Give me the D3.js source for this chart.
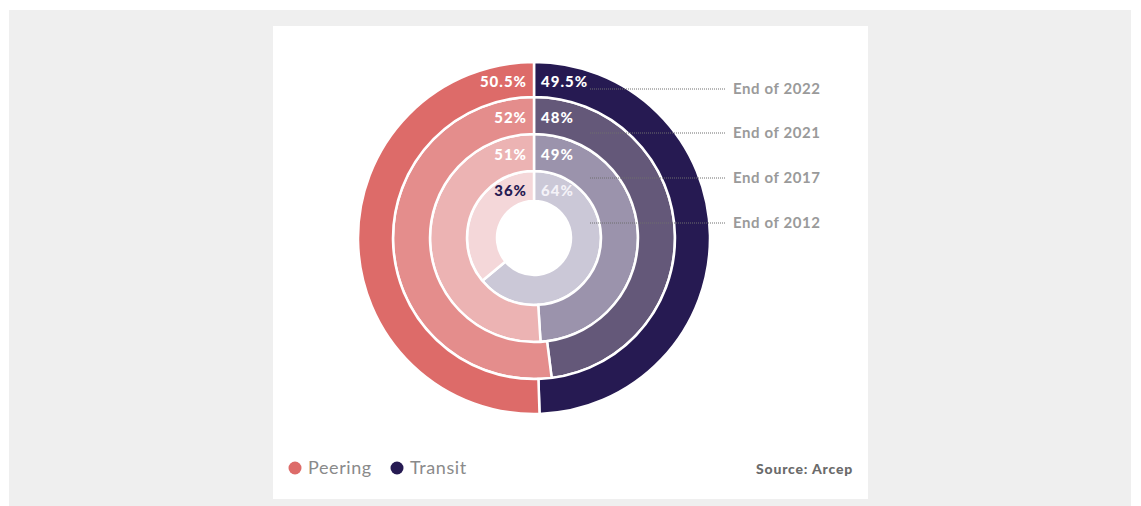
<!DOCTYPE html>
<html>
<head>
<meta charset="utf-8">
<script src="https://cdn.jsdelivr.net/npm/d3@7"></script>
<style>
  html, body { margin: 0; padding: 0; background: #fff; }
  svg { display: block; }
</style>
</head>
<body>
<div id="vis"></div>
<script>
// Data: share of interconnection traffic, inner ring -> outer ring
const years = ["End of 2012", "End of 2017", "End of 2021", "End of 2022"];
const peering = [36, 51, 52, 50.5];
const transit = [64, 49, 48, 49.5];
const series = ["Peering", "Transit"];

const width = 1141;
const height = 506;

// layout
const cx = 534, cy = 238;
const ringEdges = [37, 67, 104, 141, 176];   // radii, inner hole -> outer edge

const peeringColors = ["#f4d7d9", "#ecb3b3", "#e48d8c", "#dd6b69"];
const transitColors = ["#cbc8d7", "#9b93ac", "#645879", "#261a52"];
const labelColors = {
    peering: ["#261a52", "#ffffff", "#ffffff", "#ffffff"],
    transit: ["#f4f2f8", "#ffffff", "#ffffff", "#ffffff"]
};

const svg = d3.select("#vis")
    .append("svg")
    .attr("width", width)
    .attr("height", height);

// background panel + card
svg.append("rect")
    .attr("x", 9).attr("y", 10)
    .attr("width", 1122).attr("height", 496)
    .attr("fill", "#efefef");

svg.append("rect")
    .attr("x", 273).attr("y", 26)
    .attr("width", 595).attr("height", 473)
    .attr("fill", "#ffffff");

const pie = d3.pie()
    .sort(null)
    .value(d => d.value);

const chart = svg.append("g")
    .attr("transform", `translate(${cx},${cy})`);

years.forEach((year, i) => {
    const arc = d3.arc()
        .innerRadius(ringEdges[i])
        .outerRadius(ringEdges[i + 1]);

    // transit first, clockwise from 12 o'clock
    const slices = pie([
        { key: "transit", value: transit[i] },
        { key: "peering", value: peering[i] }
    ]);

    chart.append("g")
        .selectAll("path")
        .data(slices)
        .enter().append("path")
        .attr("d", arc)
        .attr("fill", d => d.data.key === "transit" ? transitColors[i] : peeringColors[i])
        .attr("stroke", "#fff")
        .attr("stroke-width", 2.5);
});

// leader lines + year labels
const lineY = [223, 178, 133, 89];
years.forEach((year, i) => {
    svg.append("line")
        .attr("x1", 590).attr("x2", 726)
        .attr("y1", lineY[i]).attr("y2", lineY[i])
        .attr("stroke", "#6e6e6e")
        .attr("stroke-width", 1)
        .attr("stroke-dasharray", "1,1");

    svg.append("text")
        .attr("x", 733)
        .attr("y", lineY[i])
        .attr("dy", "0.36em")
        .attr("font-family", "Lato, sans-serif")
        .attr("font-weight", 700)
        .attr("font-size", 15)
        .attr("letter-spacing", 0.6)
        .attr("fill", "#9a9a9a")
        .text(year);
});

// percentage labels at top of each ring
const fmt = v => v + "%";
years.forEach((year, i) => {
    const mid = (ringEdges[i] + ringEdges[i + 1]) / 2;
    const y = cy - mid + (i === 0 ? 5 : 2);

    chart.append("text")
        .attr("x", -7)
        .attr("y", y - cy)
        .attr("dy", "0.36em")
        .attr("text-anchor", "end")
        .attr("font-family", "Lato, sans-serif")
        .attr("font-weight", 900)
        .attr("font-size", 15)
        .attr("letter-spacing", 1)
        .attr("fill", labelColors.peering[i])
        .text(fmt(peering[i]));

    chart.append("text")
        .attr("x", 7)
        .attr("y", y - cy)
        .attr("dy", "0.36em")
        .attr("text-anchor", "start")
        .attr("font-family", "Lato, sans-serif")
        .attr("font-weight", 900)
        .attr("font-size", 15)
        .attr("letter-spacing", 1)
        .attr("fill", labelColors.transit[i])
        .text(fmt(transit[i]));
});

// legend
const legendX = [295, 397];
const legendColors = [peeringColors[3], transitColors[3]];
series.forEach((s, i) => {
    svg.append("circle")
        .attr("cx", legendX[i])
        .attr("cy", 468)
        .attr("r", 6.5)
        .attr("fill", legendColors[i]);

    svg.append("text")
        .attr("x", legendX[i] + 13)
        .attr("y", 468)
        .attr("dy", "0.36em")
        .attr("font-family", "Lato, sans-serif")
        .attr("font-size", 18)
        .attr("letter-spacing", 0.6)
        .attr("fill", "#8a8a8a")
        .text(s);
});

svg.append("text")
    .attr("x", 853)
    .attr("y", 469)
    .attr("dy", "0.36em")
    .attr("text-anchor", "end")
    .attr("font-family", "Lato, sans-serif")
    .attr("font-weight", 900)
    .attr("font-size", 14)
    .attr("letter-spacing", 0.8)
    .attr("fill", "#6a6a6a")
    .text("Source: Arcep");
</script>
</body>
</html>
